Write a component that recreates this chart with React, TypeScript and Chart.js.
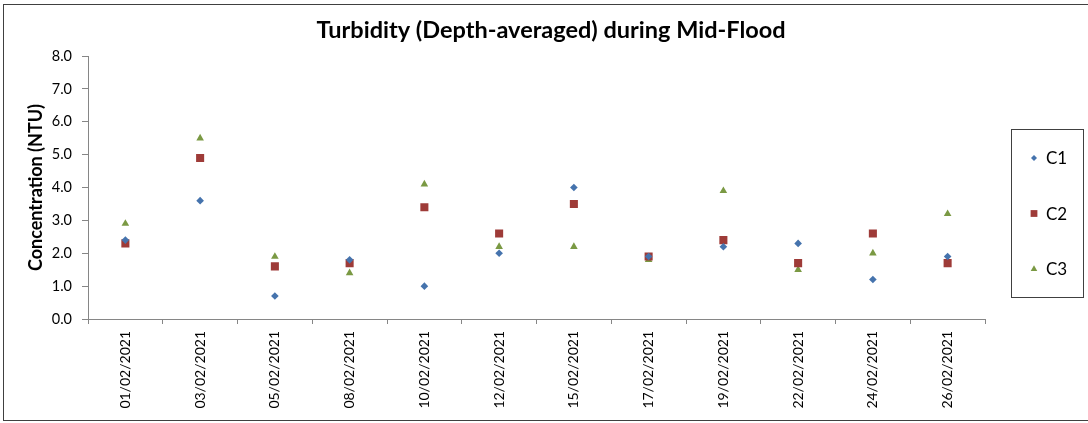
import React, { useEffect, useRef } from "react";
import { Chart, registerables } from "chart.js";
import { drawPoint } from "chart.js/helpers";

Chart.register(...registerables);

const categories = [
  "01/02/2021", "03/02/2021", "05/02/2021", "08/02/2021", "10/02/2021", "12/02/2021",
  "15/02/2021", "17/02/2021", "19/02/2021", "22/02/2021", "24/02/2021", "26/02/2021",
];
const c1Values = [2.4, 3.6, 0.7, 1.8, 1.0, 2.0, 4.0, 1.9, 2.2, 2.3, 1.2, 1.9];
const c2Values = [2.3, 4.9, 1.6, 1.7, 3.4, 2.6, 3.5, 1.9, 2.4, 1.7, 2.6, 1.7];
const c3Values = [2.9, 5.5, 1.9, 1.4, 4.1, 2.2, 2.2, 1.8, 3.9, 1.5, 2.0, 3.2];
const seriesNames = ["C1", "C2", "C3"];
const yTicks = [0, 1, 2, 3, 4, 5, 6, 7, 8];
const chartTitle = "Turbidity (Depth-averaged) during Mid-Flood";

const FONT = "Lato, 'Open Sans', sans-serif";
const AXIS_COLOR = "#868686";

const titleLegendPlugin = {
  id: "titleAndBoxLegend",
  afterDraw(chart: any) {
    const ctx = chart.ctx;
    ctx.save();
    // title
    ctx.fillStyle = "#000";
    ctx.font = `bold 23.5px ${FONT}`;
    ctx.textAlign = "center";
    ctx.textBaseline = "middle";
    ctx.fillText(chartTitle, 551, 30);
    // legend
    const bx = 1011.5, by = 129.5, bw = 72, bh = 168;
    ctx.strokeStyle = "#404040";
    ctx.lineWidth = 1;
    ctx.strokeRect(bx, by, bw, bh);
    const legendRadii = [3, 4.8, 3.8];
    chart.data.datasets.forEach((ds: any, i: number) => {
      const cy = 158 + i * 55.5;
      ctx.fillStyle = ds.backgroundColor;
      drawPoint(ctx, {
        pointStyle: ds.pointStyle,
        radius: legendRadii[i],
        rotation: 0,
        borderWidth: 0,
      } as any, 1034, cy);
      ctx.fillStyle = "#000";
      ctx.font = `17px ${FONT}`;
      ctx.textBaseline = "middle";
      ctx.textAlign = "left";
      ctx.fillText(ds.label, 1046, cy + 1);
    });
    ctx.restore();
  },
};

export default function App() {
  const canvasRef = useRef<HTMLCanvasElement | null>(null);

  useEffect(() => {
    const canvas = canvasRef.current;
    if (!canvas) return;
    const chart = new Chart(canvas, {
      type: "line",
      data: {
        labels: categories,
        datasets: [
          {
            label: seriesNames[0],
            data: c1Values,
            showLine: false,
            pointStyle: "rectRot",
            pointRadius: 3.8,
            pointBorderWidth: 0,
            backgroundColor: "#4573AD",
            pointBackgroundColor: "#4573AD",
            borderColor: "#4573AD",
          },
          {
            label: seriesNames[1],
            data: c2Values,
            showLine: false,
            pointStyle: "rect",
            pointRadius: 5.7,
            pointBorderWidth: 0,
            backgroundColor: "#9E3B38",
            pointBackgroundColor: "#9E3B38",
            borderColor: "#9E3B38",
          },
          {
            label: seriesNames[2],
            data: c3Values,
            showLine: false,
            pointStyle: "triangle",
            pointRadius: 4.4,
            pointBorderWidth: 0,
            backgroundColor: "#7A9943",
            pointBackgroundColor: "#7A9943",
            borderColor: "#7A9943",
          },
        ],
      },
      options: {
        animation: false,
        responsive: false,
        maintainAspectRatio: false,
        devicePixelRatio: 1,
        layout: { padding: { left: 0, right: 103, top: 56, bottom: 0 } },
        plugins: {
          legend: { display: false },
          tooltip: { enabled: false },
          title: { display: false },
        },
        scales: {
          x: {
            type: "category",
            offset: true,
            grid: {
              offset: true,
              drawOnChartArea: false,
              drawTicks: true,
              tickLength: 5,
              color: AXIS_COLOR,
            },
            border: { display: true, color: AXIS_COLOR },
            ticks: {
              autoSkip: false,
              maxRotation: 90,
              minRotation: 90,
              padding: 7,
              color: "#000",
              font: { family: FONT, size: 14 },
            },
            afterFit(scale: any) {
              scale.height = 104;
            },
          },
          y: {
            min: 0,
            max: 8,
            afterBuildTicks(scale: any) {
              scale.ticks = yTicks.map((v) => ({ value: v }));
            },
            grid: {
              drawOnChartArea: false,
              drawTicks: true,
              tickLength: 6,
              color: AXIS_COLOR,
            },
            border: { display: true, color: AXIS_COLOR },
            ticks: {
              padding: 10,
              color: "#000",
              font: { family: FONT, size: 14.5 },
              callback: (v: any) => Number(v).toFixed(1),
            },
            title: {
              display: true,
              text: "Concentration (NTU)",
              color: "#000",
              font: { family: FONT, size: 18, weight: "bold", lineHeight: 1.2 },
              padding: { top: 25, bottom: 0 },
            },
            afterFit(scale: any) {
              scale.width = 88;
            },
          },
        },
      },
      plugins: [titleLegendPlugin],
    });
    return () => chart.destroy();
  }, []);

  return (
    <div style={{ position: "absolute", left: 0, top: 0, width: 1088, height: 423, background: "#fff", overflow: "hidden" }}>
      <div
        style={{
          position: "absolute",
          left: 3,
          top: 4,
          width: 1100,
          height: 417,
          border: "1px solid #404040",
          boxSizing: "border-box",
        }}
      />
      <canvas ref={canvasRef} width={1088} height={423} style={{ position: "absolute", left: 0, top: 0, width: 1088, height: 423 }} />
    </div>
  );
}
